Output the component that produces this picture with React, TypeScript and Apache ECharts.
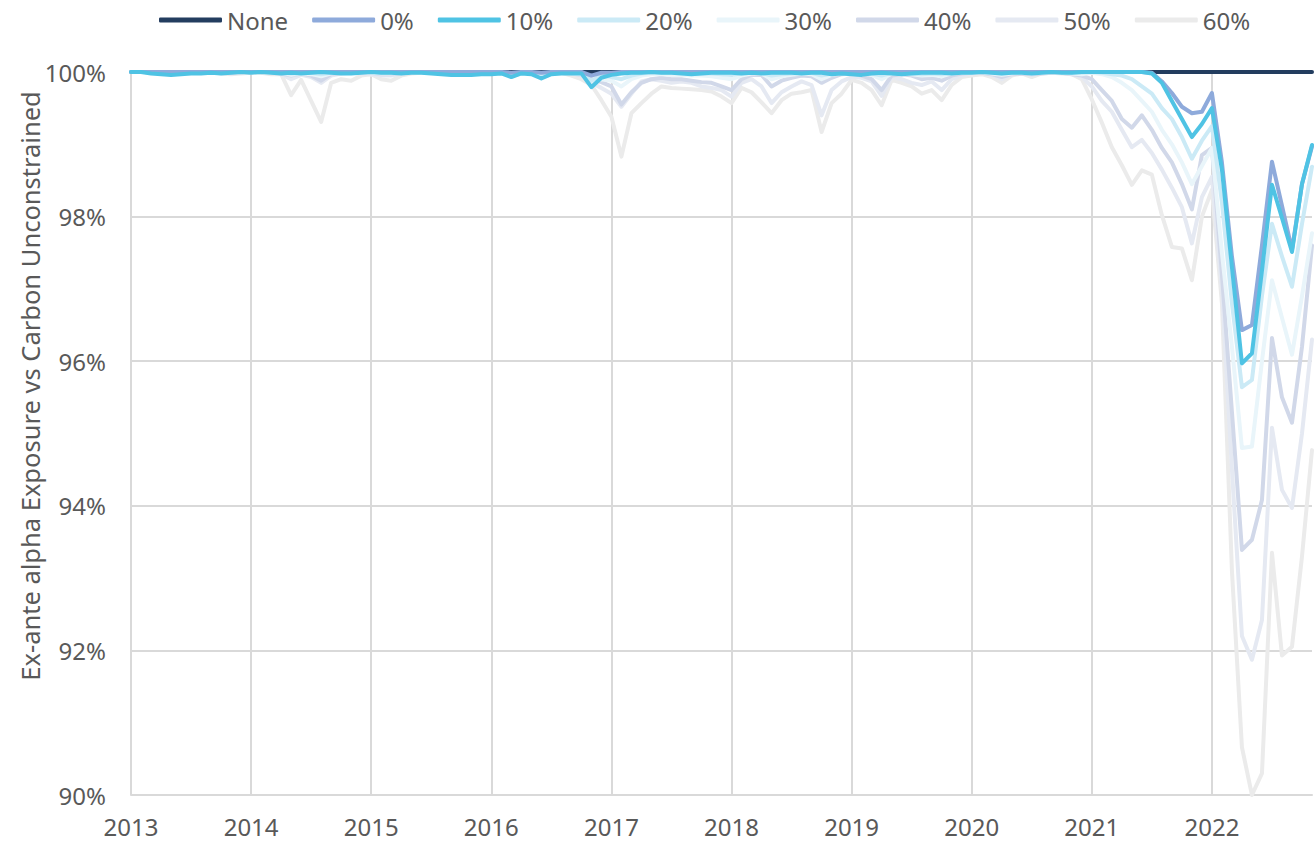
import React, { useEffect, useRef } from "react";
import * as echarts from "echarts";

const years = [2013, 2014, 2015, 2016, 2017, 2018, 2019, 2020, 2021, 2022];
const lastMonthOf2022 = 11;
const months: string[] = [];
years.forEach((y) => {
  for (let m = 1; m <= 12; m++) {
    if (y === 2022 && m > lastMonthOf2022) break;
    months.push(`${y}-${String(m).padStart(2, "0")}`);
  }
});

const yTitle = "Ex-ante alpha Exposure vs Carbon Unconstrained";
const legendNames = ["None", "0%", "10%", "20%", "30%", "40%", "50%", "60%"];

const none = [
  100, 100, 100, 100, 100, 100, 100, 100, 100, 100, 100, 100,
  100, 100, 100, 100, 100, 100, 100, 100, 100, 100, 100, 100,
  100, 100, 100, 100, 100, 100, 100, 100, 100, 100, 100, 100,
  100, 100, 100, 100, 100, 100, 100, 100, 100, 100, 100, 100,
  100, 100, 100, 100, 100, 100, 100, 100, 100, 100, 100, 100,
  100, 100, 100, 100, 100, 100, 100, 100, 100, 100, 100, 100,
  100, 100, 100, 100, 100, 100, 100, 100, 100, 100, 100, 100,
  100, 100, 100, 100, 100, 100, 100, 100, 100, 100, 100, 100,
  100, 100, 100, 100, 100, 100, 100, 100, 100, 100, 100, 100,
  100, 100, 100, 100, 100, 100, 100, 100, 100, 100, 100,
];

const p0 = [
  100, 100, 100, 100, 100, 100, 100, 100, 100, 100, 100, 100,
  100, 100, 100, 100, 100, 100, 100, 100, 100, 100, 100, 100,
  100, 100, 100, 100, 100, 100, 100, 100, 100, 100, 100, 100,
  100, 100, 99.99, 100, 100, 99.99, 100, 100, 100, 100, 99.95, 99.99,
  99.99, 100, 100, 100, 100, 100, 100, 100, 100, 100, 100, 100,
  100, 100, 100, 100, 100, 100, 100, 100, 100, 100, 100, 100,
  100, 100, 100, 100, 100, 100, 100, 100, 100, 100, 100, 100,
  100, 100, 100, 100, 100, 100, 100, 100, 100, 100, 100, 100,
  100, 100, 100, 100, 100, 100, 99.99, 99.87, 99.71, 99.52, 99.43, 99.45,
  99.71, 98.75, 97.45, 96.43, 96.5, 97.6, 98.76, 98.15, 97.54, 98.45, 98.97,
];

const p10 = [
  100, 100, 99.98, 99.97, 99.96, 99.97, 99.98, 99.98, 99.99, 99.98, 99.99, 100,
  99.99, 100, 99.99, 99.98, 99.99, 99.98, 99.99, 100, 99.99, 99.98, 99.98, 99.99,
  100, 99.99, 99.99, 99.98, 99.99, 99.99, 99.98, 99.97, 99.96, 99.96, 99.96, 99.97,
  99.97, 99.98, 99.93, 99.98, 99.97, 99.91, 99.97, 99.98, 99.98, 99.98, 99.79, 99.92,
  99.96, 99.98, 99.99, 99.99, 100, 99.99, 99.99, 99.98, 99.97, 99.98, 99.99, 99.99,
  99.99, 99.98, 99.99, 99.98, 99.99, 99.99, 99.99, 99.98, 99.99, 99.99, 99.97, 99.98,
  99.97, 99.96, 99.98, 99.99, 99.98, 99.97, 99.98, 99.99, 99.99, 99.99, 99.98, 99.99,
  99.99, 100, 99.99, 99.98, 99.99, 99.99, 99.98, 99.99, 100, 99.99, 99.99, 100,
  100, 100, 100, 100, 100, 100, 99.98, 99.85, 99.6, 99.35, 99.1, 99.28,
  99.5, 98.65, 97.3, 95.97, 96.11, 97.25, 98.44, 97.98, 97.51, 98.45, 98.99,
];

const p20 = [
  100, 100, 100, 100, 100, 100, 100, 100, 100, 100, 100, 100,
  100, 100, 100, 99.99, 99.98, 99.99, 99.99, 99.97, 99.99, 100, 100, 100,
  100, 99.99, 99.99, 100, 100, 100, 100, 99.99, 99.99, 99.99, 99.99, 99.99,
  99.99, 99.99, 99.97, 99.99, 99.99, 99.97, 99.99, 99.99, 99.99, 99.98, 99.88, 99.95,
  99.93, 99.9, 99.95, 99.98, 99.99, 99.99, 99.99, 99.99, 99.98, 99.98, 99.98, 99.97,
  99.96, 99.98, 99.99, 99.99, 99.95, 99.97, 99.98, 99.99, 99.99, 99.95, 99.98, 99.99,
  99.99, 99.99, 99.98, 99.95, 99.99, 99.99, 99.98, 99.97, 99.98, 99.97, 99.99, 99.99,
  100, 100, 99.99, 99.98, 99.99, 100, 99.99, 100, 100, 100, 99.99, 99.99,
  100, 99.99, 99.97, 99.95, 99.9, 99.8, 99.7, 99.5, 99.35, 99.1, 98.8, 99.05,
  99.25, 98.2, 96.8, 95.64, 95.74, 96.9, 97.9, 97.45, 97.03, 97.9, 98.69,
];

const p30 = [
  100, 100, 100, 100, 100, 100, 100, 100, 100, 100, 100, 100,
  100, 100, 99.99, 99.99, 99.96, 99.98, 99.97, 99.94, 99.98, 99.99, 100, 100,
  99.99, 99.98, 99.98, 99.99, 100, 100, 100, 99.99, 99.99, 99.99, 99.99, 99.99,
  99.99, 99.99, 99.96, 99.99, 99.98, 99.96, 99.99, 99.99, 99.98, 99.97, 99.88, 99.9,
  99.88, 99.8, 99.9, 99.95, 99.97, 99.97, 99.96, 99.96, 99.95, 99.95, 99.94, 99.92,
  99.9, 99.95, 99.98, 99.98, 99.9, 99.94, 99.96, 99.98, 99.97, 99.9, 99.96, 99.98,
  99.98, 99.98, 99.96, 99.9, 99.98, 99.98, 99.97, 99.95, 99.96, 99.94, 99.98, 99.99,
  99.99, 100, 99.98, 99.96, 99.98, 99.99, 99.98, 99.99, 100, 99.99, 99.98, 99.97,
  99.99, 99.97, 99.93, 99.85, 99.75, 99.6, 99.45, 99.2, 99.0, 98.75, 98.45, 98.7,
  98.95, 97.5, 96.2, 94.8, 94.82, 96.0, 97.12, 96.6, 96.09, 96.9, 97.77,
];

const p40 = [
  100, 100, 100, 100, 100, 100, 100, 100, 100, 100, 99.99, 100,
  100, 100, 100, 99.98, 99.95, 99.98, 99.95, 99.88, 99.97, 99.99, 100, 100,
  99.99, 99.97, 99.97, 99.99, 100, 100, 100, 99.99, 99.99, 99.99, 99.99, 99.99,
  99.99, 99.99, 99.96, 99.99, 99.98, 99.95, 99.99, 99.99, 99.98, 99.96, 99.9, 99.86,
  99.8, 99.55, 99.72, 99.85, 99.9, 99.92, 99.9, 99.9, 99.88, 99.86, 99.85, 99.8,
  99.75, 99.9, 99.96, 99.96, 99.8, 99.88, 99.92, 99.95, 99.94, 99.85, 99.92, 99.97,
  99.98, 99.95, 99.9, 99.75, 99.95, 99.97, 99.95, 99.9, 99.92, 99.88, 99.95, 99.98,
  99.99, 99.99, 99.97, 99.93, 99.97, 99.98, 99.97, 99.98, 99.99, 99.99, 99.97, 99.95,
  99.9, 99.75, 99.6, 99.35, 99.23, 99.4, 99.2, 98.95, 98.75, 98.45, 98.1, 98.85,
  98.95, 97.2, 95.3, 93.39, 93.53, 94.08, 96.32, 95.5, 95.15, 96.2, 97.6,
];

const p50 = [
  100, 100, 100, 100, 100, 100, 100, 100, 100, 99.99, 99.98, 99.99,
  100, 100, 99.99, 99.97, 99.9, 99.96, 99.93, 99.85, 99.95, 99.98, 99.99, 99.98,
  99.97, 99.95, 99.95, 99.98, 99.99, 100, 99.99, 99.98, 99.97, 99.98, 99.99, 99.99,
  99.99, 99.99, 99.97, 99.99, 99.99, 99.96, 99.99, 99.99, 99.98, 99.95, 99.85, 99.78,
  99.7, 99.52, 99.7, 99.87, 99.9, 99.88, 99.85, 99.87, 99.85, 99.8, 99.78, 99.75,
  99.66, 99.85, 99.9, 99.8, 99.57, 99.72, 99.8, 99.87, 99.82, 99.4, 99.75, 99.87,
  99.93, 99.92, 99.87, 99.67, 99.93, 99.9, 99.85, 99.82, 99.87, 99.75, 99.9, 99.95,
  99.98, 99.99, 99.96, 99.9, 99.97, 99.99, 99.96, 99.99, 100, 99.99, 99.98, 99.93,
  99.8, 99.6, 99.45, 99.2, 98.96, 99.06, 98.88, 98.65, 98.4, 98.13, 97.63, 98.27,
  98.55, 97.0, 94.5, 92.2, 91.87, 92.42, 95.08, 94.22, 93.97, 95.0, 96.3,
];

const p60 = [
  100, 100, 100, 100, 100, 100, 99.99, 100, 100, 99.98, 99.97, 99.98,
  99.99, 99.99, 99.97, 99.97, 99.68, 99.89, 99.6, 99.31, 99.85, 99.9, 99.88, 99.95,
  99.97, 99.9, 99.88, 99.95, 99.98, 99.99, 99.99, 99.98, 99.98, 99.99, 99.99, 99.99,
  99.99, 99.99, 99.96, 99.99, 99.99, 99.96, 99.99, 99.99, 99.95, 99.9, 99.82, 99.61,
  99.38, 98.83, 99.43, 99.57, 99.7, 99.8, 99.78, 99.77, 99.76, 99.75, 99.73, 99.66,
  99.57, 99.78, 99.72, 99.58, 99.43, 99.61, 99.7, 99.72, 99.75, 99.17, 99.57, 99.7,
  99.89, 99.85, 99.75, 99.54, 99.89, 99.85, 99.8, 99.7, 99.75, 99.61, 99.82, 99.93,
  99.95, 99.97, 99.93, 99.85, 99.95, 99.98, 99.93, 99.98, 99.99, 99.98, 99.97, 99.9,
  99.62, 99.3, 98.96, 98.71, 98.44, 98.64, 98.58, 98.02, 97.58, 97.56, 97.12, 98.0,
  98.37, 96.8, 93.1, 90.66, 90.0, 90.3, 93.35, 91.93, 92.05, 93.3, 94.77,
];

const yMin = 90;
const yMax = 100;
const yStep = 2;

const FONT = "'Noto Sans', sans-serif";
const TEXT = "#595959";
const GRID = "#d9d9d9";

// drawing order (later = on top)
const seriesDefs = [
  { name: "None", data: none, color: "#233d5f" },
  { name: "60%", data: p60, color: "#ebebeb" },
  { name: "50%", data: p50, color: "#e5e9f2" },
  { name: "40%", data: p40, color: "#d1d8e9" },
  { name: "30%", data: p30, color: "#e9f5fa" },
  { name: "20%", data: p20, color: "#cbeaf6" },
  { name: "0%", data: p0, color: "#8eaadb" },
  { name: "10%", data: p10, color: "#4fc3e4" },
];

export default function App() {
  const ref = useRef<HTMLDivElement>(null);

  useEffect(() => {
    if (!ref.current) return;
    const chart = echarts.init(ref.current, undefined, { renderer: "svg" });
    chart.setOption({
      animation: false,
      backgroundColor: "#ffffff",
      grid: { left: 131, right: 2, top: 72, bottom: 46, containLabel: false },
      legend: {
        data: legendNames,
        top: 3,
        left: 154,
        icon: "roundRect",
        itemWidth: 63,
        itemHeight: 5,
        itemGap: 24,
        textStyle: { color: TEXT, fontSize: 24, fontFamily: FONT },
      },
      xAxis: {
        type: "category",
        data: months,
        boundaryGap: false,
        axisLine: { show: true, lineStyle: { color: GRID, width: 2 } },
        axisTick: { show: false },
        axisLabel: {
          interval: (i: number) => i % 12 === 0,
          formatter: (v: string) => v.slice(0, 4),
          margin: 19,
          color: TEXT,
          fontSize: 24,
          fontFamily: FONT,
        },
        splitLine: {
          show: true,
          interval: (i: number) => i % 12 === 0,
          lineStyle: { color: GRID, width: 2 },
        },
      },
      yAxis: {
        type: "value",
        min: yMin,
        max: yMax,
        interval: yStep,
        axisLine: { show: false },
        axisTick: { show: false },
        axisLabel: {
          formatter: "{value}%",
          margin: 25,
          color: TEXT,
          fontSize: 24,
          fontFamily: FONT,
        },
        splitLine: { show: true, lineStyle: { color: GRID, width: 2 } },
      },
      graphic: [
        {
          type: "text",
          x: 30,
          y: 386,
          rotation: Math.PI / 2,
          style: {
            text: yTitle,
            align: "center",
            verticalAlign: "middle",
            fill: TEXT,
            fontSize: 25.5,
            fontFamily: FONT,
          },
        },
      ],
      series: seriesDefs.map((s) => ({
        name: s.name,
        type: "line",
        data: s.data,
        showSymbol: false,
        symbol: "none",
        lineStyle: { width: 4, color: s.color, join: "round", cap: "round" },
        itemStyle: { color: s.color },
        emphasis: { disabled: true },
      })),
    });
    return () => chart.dispose();
  }, []);

  return (
    <div
      ref={ref}
      style={{ position: "fixed", left: 0, top: 0, width: 1314, height: 841, background: "#fff" }}
    />
  );
}
